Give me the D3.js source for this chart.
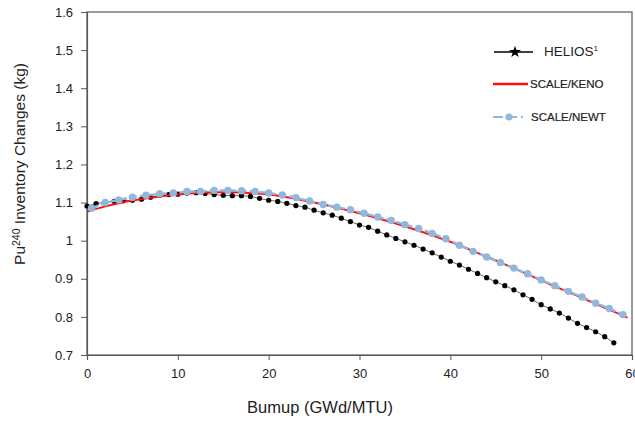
<!DOCTYPE html>
<html>
<head>
<meta charset="utf-8">
<script src="https://cdn.jsdelivr.net/npm/d3@7"></script>
<style>
  body { margin: 0; background: #fff; }
  svg { display: block; font-family: "Liberation Sans", Arial, sans-serif; }
</style>
</head>
<body>
<svg id="chart" width="635" height="421"></svg>
<script>
// HELIOS reference data (burnup step 1 GWd/MTU)
const heliosBurnup = d3.range(0, 59, 1);
const heliosPu240 = [1.091, 1.097, 1.101, 1.103, 1.105, 1.106, 1.109, 1.114, 1.119, 1.121,
  1.122, 1.125, 1.126, 1.124, 1.121, 1.119, 1.118, 1.118, 1.116, 1.111,
  1.106, 1.103, 1.098, 1.092, 1.088, 1.080, 1.073, 1.067, 1.059, 1.050,
  1.041, 1.035, 1.025, 1.015, 1.006, 0.997, 0.988, 0.978, 0.968, 0.957,
  0.946, 0.936, 0.925, 0.914, 0.903, 0.892, 0.882, 0.871, 0.858, 0.846,
  0.832, 0.821, 0.810, 0.797, 0.783, 0.772, 0.761, 0.748, 0.732];

// SCALE/KENO
const kenoBurnup = [0, 2, 4, 6, 8, 10, 12, 14, 16, 18, 20, 22, 24, 26, 28, 30,
  32, 34, 36, 38, 40, 42, 44, 46, 48, 50, 52, 54, 56, 58, 59.5];
const kenoPu240 = [1.076, 1.090, 1.101, 1.109, 1.116, 1.121, 1.125, 1.127, 1.127, 1.125,
  1.121, 1.114, 1.105, 1.095, 1.084, 1.072, 1.059, 1.045, 1.030, 1.014,
  0.997, 0.978, 0.958, 0.938, 0.917, 0.896, 0.875, 0.855, 0.834, 0.814, 0.798];

// SCALE/NEWT (burnup step 1.5 GWd/MTU)
const newtBurnup = d3.range(0, 40).map(i => 0.5 + i * 1.5);
const newtPu240 = [1.085, 1.100, 1.107, 1.114, 1.119, 1.123, 1.125, 1.129, 1.129, 1.132,
  1.132, 1.131, 1.129, 1.125, 1.120, 1.113, 1.104, 1.095, 1.088, 1.081,
  1.072, 1.062, 1.053, 1.042, 1.032, 1.019, 1.005, 0.988, 0.972, 0.957,
  0.943, 0.928, 0.913, 0.897, 0.882, 0.867, 0.852, 0.836, 0.822, 0.806];

const xTicks = [0, 10, 20, 30, 40, 50, 60];
const yTicks = [0.7, 0.8, 0.9, 1.0, 1.1, 1.2, 1.3, 1.4, 1.5, 1.6];

const svg = d3.select("#chart");
const margin = {left: 87, right: 3, top: 12, bottom: 66};
const width = +svg.attr("width");
const height = +svg.attr("height");

const x = d3.scaleLinear().domain([0, 60]).range([margin.left, width - margin.right]);
const y = d3.scaleLinear().domain([0.7, 1.6]).range([height - margin.bottom, margin.top]);

const axisColor = "#595959";
const textColor = "#222";
const fontFamily = "Liberation Sans, Arial, sans-serif";

// plot frame (top and right)
svg.append("rect")
    .attr("x", x(0)).attr("y", y(1.6))
    .attr("width", x(60) - x(0)).attr("height", y(0.7) - y(1.6))
    .attr("fill", "none")
    .attr("stroke", axisColor)
    .attr("stroke-width", 1.2);

// x axis
const xAxis = svg.append("g")
    .attr("transform", "translate(0," + y(0.7) + ")")
    .call(d3.axisBottom(x).tickValues(xTicks).tickSize(5).tickPadding(9)
        .tickFormat(d3.format("d")));
xAxis.select(".domain").attr("stroke", axisColor).attr("stroke-width", 1.2);
xAxis.selectAll(".tick line").attr("stroke", axisColor);
xAxis.selectAll("text").attr("fill", textColor).attr("font-size", "13px")
    .attr("font-family", fontFamily);

// y axis
const yAxis = svg.append("g")
    .attr("transform", "translate(" + x(0) + ",0)")
    .call(d3.axisLeft(y).tickValues(yTicks).tickSize(6).tickPadding(8)
        .tickFormat(d => d === 1 ? "1" : d3.format(".1f")(d)));
yAxis.select(".domain").attr("stroke", axisColor).attr("stroke-width", 1.2);
yAxis.selectAll(".tick line").attr("stroke", axisColor);
yAxis.selectAll("text").attr("fill", textColor).attr("font-size", "13px")
    .attr("font-family", fontFamily);

// axis titles
svg.append("text")
    .attr("x", 320).attr("y", 413)
    .attr("text-anchor", "middle")
    .attr("font-size", "16.5px")
    .attr("fill", textColor)
    .text("Bumup (GWd/MTU)");

const yTitle = svg.append("text")
    .attr("transform", "translate(25,164) rotate(-90)")
    .attr("text-anchor", "middle")
    .attr("font-size", "15.5px")
    .attr("fill", textColor);
yTitle.append("tspan").text("Pu");
yTitle.append("tspan").attr("font-size", "10.5px").attr("dy", -5).text("240");
yTitle.append("tspan").attr("dy", 5).text(" Inventory Changes (kg)");

// series
const helios = heliosBurnup.map((b, i) => ({b: b, v: heliosPu240[i]}));
const keno = kenoBurnup.map((b, i) => ({b: b, v: kenoPu240[i]}));
const newt = newtBurnup.map((b, i) => ({b: b, v: newtPu240[i]}));

const line = d3.line().x(d => x(d.b)).y(d => y(d.v));
const smooth = d3.line().x(d => x(d.b)).y(d => y(d.v)).curve(d3.curveMonotoneX);

const heliosColor = "#000";
const kenoColor = "#ff1010";
const newtColor = "#93b7da";
const legendStar = d3.symbol().type(d3.symbolStar).size(45);

// HELIOS
svg.append("path")
    .datum(helios)
    .attr("d", line)
    .attr("fill", "none")
    .attr("stroke", "#444")
    .attr("stroke-width", 0.8);
svg.selectAll(".helios-pt")
    .data(helios)
    .enter().append("circle")
    .attr("class", "helios-pt")
    .attr("cx", d => x(d.b))
    .attr("cy", d => y(d.v))
    .attr("r", 2.6)
    .attr("fill", heliosColor);

// SCALE/KENO
svg.append("path")
    .datum(keno)
    .attr("d", smooth)
    .attr("fill", "none")
    .attr("stroke", kenoColor)
    .attr("stroke-width", 2);

// SCALE/NEWT
svg.append("path")
    .datum(newt)
    .attr("d", line)
    .attr("fill", "none")
    .attr("stroke", newtColor)
    .attr("stroke-width", 2.4)
    .attr("stroke-dasharray", "7,3");
svg.selectAll(".newt-pt")
    .data(newt)
    .enter().append("circle")
    .attr("class", "newt-pt")
    .attr("cx", d => x(d.b))
    .attr("cy", d => y(d.v))
    .attr("r", 3.7)
    .attr("fill", newtColor);

// legend
const legend = svg.append("g");

legend.append("line")
    .attr("x1", 494).attr("x2", 533).attr("y1", 52).attr("y2", 52)
    .attr("stroke", heliosColor).attr("stroke-width", 1.3);
legend.append("path")
    .attr("transform", "translate(515,52)")
    .attr("d", legendStar())
    .attr("fill", heliosColor);
const helLabel = legend.append("text")
    .attr("x", 544).attr("y", 56)
    .attr("font-size", "13.5px")
    .attr("fill", textColor);
helLabel.append("tspan").text("HELIOS");
helLabel.append("tspan").attr("font-size", "8px").attr("dy", -5).text("1");

legend.append("line")
    .attr("x1", 493).attr("x2", 528).attr("y1", 84).attr("y2", 84)
    .attr("stroke", kenoColor).attr("stroke-width", 2.4);
legend.append("text")
    .attr("x", 530).attr("y", 88)
    .attr("font-size", "11.5px")
    .attr("fill", textColor)
    .attr("stroke", textColor)
    .attr("stroke-width", 0.2)
    .text("SCALE/KENO");

legend.append("line")
    .attr("x1", 493).attr("x2", 523).attr("y1", 117).attr("y2", 117)
    .attr("stroke", newtColor).attr("stroke-width", 2.2)
    .attr("stroke-dasharray", "10,4");
legend.append("circle")
    .attr("cx", 509).attr("cy", 117).attr("r", 3.6)
    .attr("fill", newtColor);
legend.append("text")
    .attr("x", 531).attr("y", 121)
    .attr("font-size", "11.5px")
    .attr("fill", textColor)
    .attr("stroke", textColor)
    .attr("stroke-width", 0.2)
    .text("SCALE/NEWT");
</script>
</body>
</html>
